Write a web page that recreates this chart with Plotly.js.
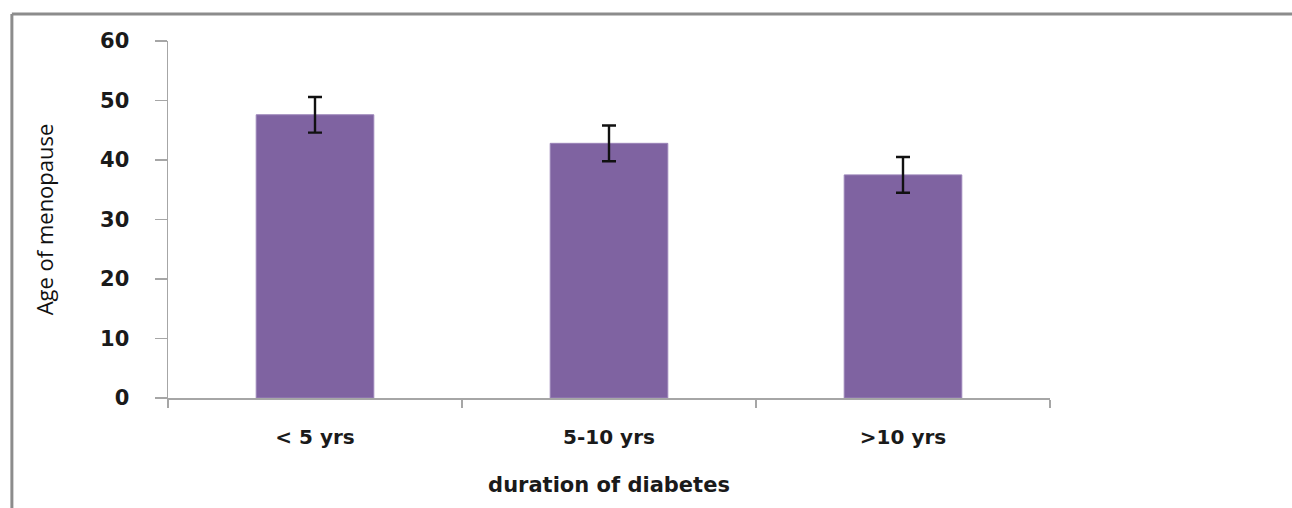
<!DOCTYPE html>
<html>
<head>
<meta charset="utf-8">
<script src="https://cdn.plot.ly/plotly-3.0.1.min.js"></script>
<style>
html,body{margin:0;padding:0;background:#fff;}
#chart{width:1292px;height:508px;}
</style>
</head>
<body>
<div id="chart"></div>
<script>
const categories = ["< 5 yrs", "5-10 yrs", ">10 yrs"];
const ageOfMenopause = [47.6, 42.8, 37.5];
const errorValues = [3.0, 3.0, 3.0];
const yTickValues = [0, 10, 20, 30, 40, 50, 60];

const trace = {
  type: "bar",
  x: categories,
  y: ageOfMenopause,
  marker: {color: "#7F63A1", line: {color: "#9A84B8", width: 1}},
  error_y: {type: "data", array: errorValues, visible: true, color: "#111111", thickness: 2.4, width: 7},
  hoverinfo: "x+y"
};

const layout = {
  width: 1292,
  height: 508,
  paper_bgcolor: "#ffffff",
  plot_bgcolor: "#ffffff",
  margin: {l: 168, r: 242, t: 41, b: 110},
  showlegend: false,
  bargap: 0.6,
  xaxis: {
    type: "category",
    showline: true,
    linecolor: "#A6A6A6",
    linewidth: 1.5,
    ticks: "outside",
    tickson: "boundaries",
    ticklen: 8,
    tickcolor: "#A6A6A6",
    tickwidth: 1.5,
    showgrid: false,
    zeroline: false,
    ticklabelstandoff: 20,
    tickfont: {family: "DejaVu Sans", size: 20, color: "#1a1a1a", weight: "bold"},
    title: {text: "duration of diabetes", standoff: 30,
            font: {family: "DejaVu Sans", size: 21, color: "#1a1a1a", weight: "bold"}}
  },
  yaxis: {
    range: [0, 60],
    tickvals: yTickValues,
    showline: true,
    linecolor: "#A6A6A6",
    linewidth: 1.5,
    ticks: "outside",
    ticklen: 12,
    tickcolor: "#A6A6A6",
    tickwidth: 1.5,
    showgrid: false,
    zeroline: false,
    ticklabelstandoff: 21,
    tickfont: {family: "DejaVu Sans", size: 21, color: "#1a1a1a", weight: "bold"},
    title: {text: "Age of menopause", standoff: 40,
            font: {family: "Open Sans", size: 22, color: "#111111"}}
  },
  shapes: [
    {type: "line", xref: "paper", yref: "paper", x0: -0.177, x1: 1.28, y0: 1.0756, y1: 1.0756,
     line: {color: "#8C8C8C", width: 3}},
    {type: "line", xref: "paper", yref: "paper", x0: -0.177, x1: -0.177, y0: 1.0756, y1: -0.32,
     line: {color: "#8C8C8C", width: 3}}
  ]
};

Plotly.newPlot("chart", [trace], layout, {displayModeBar: false, staticPlot: true});
</script>
</body>
</html>
